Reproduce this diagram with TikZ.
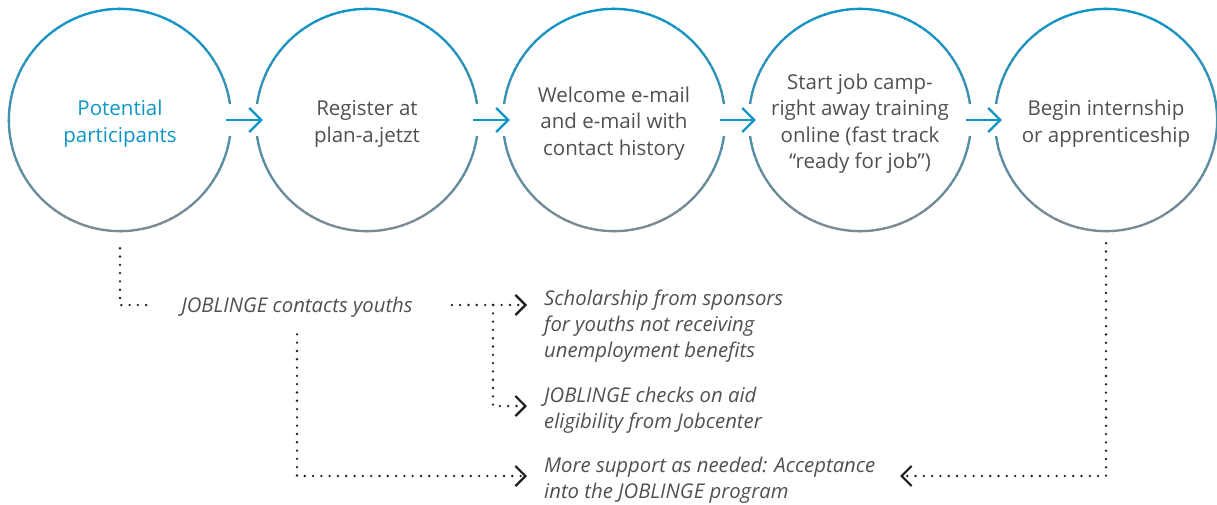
\documentclass[tikz,border=0pt]{standalone}
\usepackage{fontspec}
\setmainfont{Open Sans}
\usetikzlibrary{arrows.meta,calc}
\definecolor{cblue}{HTML}{0E95C8}
\definecolor{cgrey}{HTML}{7E8A92}
\definecolor{ctext}{HTML}{505050}
\definecolor{cdot}{HTML}{1E1E1E}
\newcommand\stagetext[1]{\raisebox{-3.5pt}[\height][\depth]{\begin{tabular}{@{}c@{}}#1\end{tabular}}}
\begin{document}
\begin{tikzpicture}[x=1pt,y=-1pt,
  stage/.style={circle, minimum size=222pt, inner sep=0pt, text=ctext,
    font=\fontsize{20.5}{26.5}\selectfont},
  ring/.style={line width=2.3pt, line cap=butt},
  note/.style={text=ctext, inner sep=0pt, font=\fontsize{20.3}{26}\selectfont\itshape},
  flow/.style={cblue, line width=2.3pt, -{Straight Barb[length=12pt,width=24pt]},
    shorten <=-5pt, shorten >=-7pt},
  dots/.style={cdot, line width=2.6pt, dash pattern=on 0pt off 8.3pt, line cap=round},
  dtip/.style={-{Straight Barb[length=10pt,width=20pt,line width=2.2pt]}},
]
\useasboundingbox (0,0) rectangle (1217,504);

% stages
\node[stage, text=cblue] (c1) at (120,120) {\stagetext{Potential\\participants}};
\node[stage] (c2) at (367,120) {\stagetext{Register at\\plan-a.jetzt}};
\node[stage] (c3) at (614,120) {\stagetext{Welcome e-mail\\and e-mail with\\contact history}};
\node[stage] (c4) at (860,120) {\stagetext{Start job camp-\\right away training\\online (fast track\\``ready for job'')}};
\node[stage] (c5) at (1106,120) {\stagetext{Begin internship\\or apprenticeship}};

% gradient rings, drawn as short arcs blending from blue (top) to grey (bottom)
\foreach \i in {1,...,5}{
  \foreach \a in {0,3,...,357}{
    \pgfmathtruncatemacro\p{50+50*sin(\a+1.5)}
    \draw[ring, draw=cblue!\p!cgrey] ($(c\i.center)+(\a:111.15pt)$)
      arc[start angle=\a, end angle=\a+3.6, radius=111.15pt];
  }
}

% gaps for the arrows
\foreach \i in {1,...,4}
  \fill[white] ($(c\i.east)+(-8,-16)$) rectangle ($(c\i.east)+(8,16)$);
\foreach \i in {2,...,5}
  \fill[white] ($(c\i.west)+(-8,-16)$) rectangle ($(c\i.west)+(8,16)$);

% flow arrows
\foreach \i/\j in {1/2,2/3,3/4,4/5}
  \draw[flow] (c\i.east) -- (c\j.west);

% notes
\node[note] (jc) at (297,307) {JOBLINGE contacts youths};
\node[note, align=left, anchor=west] (s1) at (544,326)
  {Scholarship from sponsors\\for youths not receiving\\unemployment benefits};
\node[note, align=left, anchor=west] (s2) at (544,410)
  {JOBLINGE checks on aid\\eligibility from Jobcenter};
\node[note, align=left, anchor=west] (s3) at (544,480.5)
  {More support as needed: Acceptance\\into the JOBLINGE program};

\coordinate (t1) at (527,305);
\coordinate (t2) at (527,406);
\coordinate (t3) at (527,476);
\coordinate (t4) at (900,476);
\coordinate (b1) at (493,305);

% dotted connectors
\draw[dots] ($(c1.south)+(0,17)$) |- ($(jc.west)+(-28,-2)$);
\draw[dots,dtip] ($(jc.east)+(39,-2)$) -- (t1);
\draw[dots,dtip] (b1) |- (t2);
\draw[dots,dtip] ($(jc.south)+(0,17)$) |- (t3);
\draw[dots,dtip] ($(c5.south)+(0,12)$) |- (t4);
\end{tikzpicture}
\end{document}
